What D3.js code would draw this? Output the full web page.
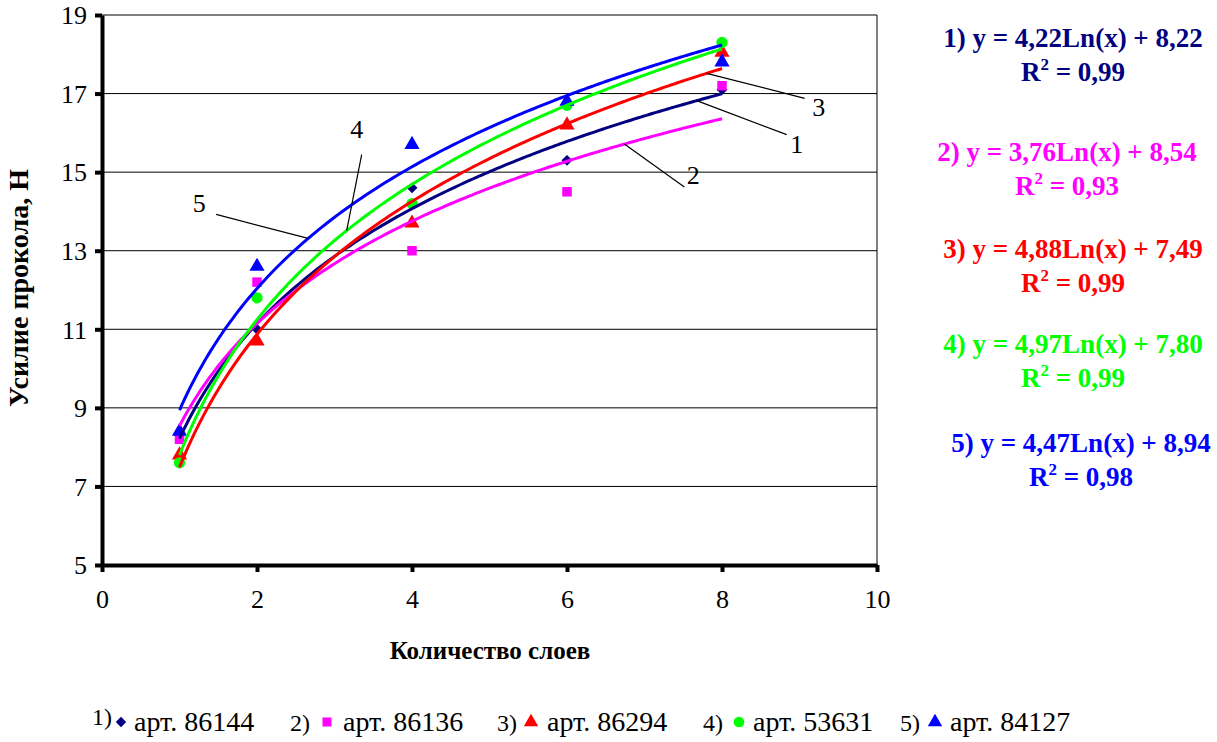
<!DOCTYPE html>
<html>
<head>
<meta charset="utf-8">
<script src="https://cdn.jsdelivr.net/npm/d3@7"></script>
<style>
  html, body { margin: 0; padding: 0; background: #fff; }
  svg { display: block; }
  svg text { font-family: "Liberation Serif", "Times New Roman", Tinos, serif; }
</style>
</head>
<body>
<svg id="chart" width="1217" height="742"></svg>
<script>
// Puncture force vs number of layers, five fabric articles
const layers = [1, 2, 4, 6, 8];
const xTicks = [0, 2, 4, 6, 8, 10];
const yTicks = [5, 7, 9, 11, 13, 15, 17, 19];

const articles = ["арт. 86144", "арт. 86136", "арт. 86294", "арт. 53631", "арт. 84127"];
const force86144 = [8.3, 11.0, 14.6, 15.3, 17.1];
const force86136 = [8.2, 12.2, 13.0, 14.5, 17.2];
const force86294 = [7.8, 10.7, 13.7, 16.2, 18.05];
const force53631 = [7.6, 11.8, 14.2, 16.7, 18.3];
const force84127 = [8.4, 12.6, 15.7, 16.8, 17.8];

// Logarithmic trend: y = a·ln(x) + b
const trendA = [4.22, 3.76, 4.88, 4.97, 4.47];
const trendB = [8.22, 8.54, 7.49, 7.80, 8.94];
const trendR2 = [0.99, 0.93, 0.99, 0.99, 0.98];

const colors = ["#000080", "#FF00FF", "#FF0000", "#00FF00", "#0000FF"];
// diamond = square turned 45°
const symbols = [d3.symbolSquare, d3.symbolSquare, d3.symbolTriangle, d3.symbolCircle, d3.symbolTriangle];
const symbolTurn = [45, 0, 0, 0, 0];
const symbolSizes = [60, 90, 100, 100, 100];

const seriesValues = [force86144, force86136, force86294, force53631, force84127];

const svg = d3.select("#chart");

const m = { left: 102, right: 877, top: 15, bottom: 565 };
const x = d3.scaleLinear().domain([0, 10]).range([m.left, m.right]);
const y = d3.scaleLinear().domain([5, 19]).range([m.bottom, m.top]);

// Horizontal gridlines and plot frame
svg.append("g")
  .selectAll("line")
  .data(yTicks.filter(t => t > 5))
  .join("line")
  .attr("x1", x(0)).attr("x2", x(10))
  .attr("y1", d => y(d)).attr("y2", d => y(d))
  .attr("stroke", "#000").attr("stroke-width", 1);

svg.append("line")
  .attr("x1", x(10)).attr("x2", x(10))
  .attr("y1", y(19)).attr("y2", y(5))
  .attr("stroke", "#000").attr("stroke-width", 1);

// Axes
const xAxis = d3.axisBottom(x).tickValues(xTicks).tickSize(7).tickPadding(18).tickSizeOuter(0);
const yAxis = d3.axisLeft(y).tickValues(yTicks).tickSize(7).tickPadding(8).tickSizeOuter(0);

const gx = svg.append("g").attr("transform", `translate(0,${m.bottom})`).call(xAxis);
const gy = svg.append("g").attr("transform", `translate(${m.left},0)`).call(yAxis);

[gx, gy].forEach(g => {
  g.attr("font-family", null).attr("font-size", null);
  g.select(".domain").attr("stroke", "#000").attr("stroke-width", 4);
  g.selectAll(".tick line").attr("stroke", "#000").attr("stroke-width", 4);
  g.selectAll(".tick text").style("font-size", "26px").attr("fill", "#000");
});
gy.selectAll(".tick text").attr("dy", "0.34em");

// Axis titles
svg.append("text")
  .attr("x", 490).attr("y", 659)
  .attr("text-anchor", "middle")
  .style("font-weight", "bold").style("font-size", "25px")
  .text("Количество слоев");

svg.append("text")
  .attr("transform", "translate(28,288) rotate(-90)")
  .attr("text-anchor", "middle")
  .style("font-weight", "bold").style("font-size", "28px")
  .text("Усилие прокола, Н");

// Data markers
seriesValues.forEach((vals, i) => {
  svg.append("g")
    .selectAll("path")
    .data(vals.map((v, k) => ({ x: layers[k], y: v })))
    .join("path")
    .attr("transform", d => `translate(${x(d.x)},${y(d.y)}) rotate(${symbolTurn[i]})`)
    .attr("d", d3.symbol().type(symbols[i]).size(symbolSizes[i]))
    .attr("fill", colors[i]);
});

// Trend curves over the markers
const trendX = d3.range(1, 8.0001, 0.05);
const line = d3.line().x(d => x(d[0])).y(d => y(d[1])).curve(d3.curveMonotoneX);
trendA.forEach((a, i) => {
  const pts = trendX.map(t => [t, a * Math.log(t) + trendB[i]]);
  svg.append("path")
    .attr("d", line(pts))
    .attr("fill", "none")
    .attr("stroke", colors[i])
    .attr("stroke-width", 3);
});

// Curve callouts: anchor on curve at layer value, line out to the number
const callouts = [
  { s: 0, at: 7.673, dx: 90, dy: 34, lx: 10, ly: 18 },
  { s: 1, at: 6.74, dx: 60, dy: 43, lx: 9, ly: -3 },
  { s: 2, at: 7.802, dx: 98, dy: 25, lx: 14, ly: 18 },
  { s: 3, at: 3.157, dx: 15, dy: -76, lx: -5, ly: -17 },
  { s: 4, at: 2.66, dx: -92, dy: -24, lx: -17, ly: -2 }
];
callouts.forEach(c => {
  const ax = x(c.at), ay = y(trendA[c.s] * Math.log(c.at) + trendB[c.s]);
  svg.append("line")
    .attr("x1", ax).attr("y1", ay)
    .attr("x2", ax + c.dx).attr("y2", ay + c.dy)
    .attr("stroke", "#000").attr("stroke-width", 1.2);
  svg.append("text")
    .attr("x", ax + c.dx + c.lx).attr("y", ay + c.dy + c.ly)
    .attr("text-anchor", "middle")
    .style("font-size", "26px")
    .text(String(c.s + 1));
});

// Trend equations
const fmt = v => v.toFixed(2).replace(".", ",");
const eqCenters = [1073, 1067, 1073, 1073, 1081];
const eqTops = [47, 161, 258, 353, 452];
trendA.forEach((a, i) => {
  const g = svg.append("g")
    .attr("fill", colors[i]).attr("text-anchor", "middle");
  g.append("text")
    .attr("x", eqCenters[i]).attr("y", eqTops[i])
    .style("font-weight", "bold").style("font-size", "27px")
    .text(`${i + 1}) y = ${fmt(a)}Ln(x) + ${fmt(trendB[i])}`);
  const t = g.append("text").attr("x", eqCenters[i]).attr("y", eqTops[i] + 34)
    .style("font-weight", "bold").style("font-size", "27px");
  t.append("tspan").text("R");
  t.append("tspan").attr("dy", -11).style("font-size", "17px").text("2");
  t.append("tspan").attr("dy", 11).text(` = ${fmt(trendR2[i])}`);
});

// Legend
const legendX = [92, 290, 497, 703, 900];
const legendMarkerX = [121, 327, 531, 739, 935];
const legendTextX = [134, 343, 547, 753, 950];
articles.forEach((name, i) => {
  const g = svg.append("g");
  g.append("text")
    .attr("x", legendX[i]).attr("y", i === 0 ? 725 : 731)
    .style("font-size", "24px")
    .text(`${i + 1})`);
  g.append("path")
    .attr("transform", `translate(${legendMarkerX[i]},722) rotate(${symbolTurn[i]})`)
    .attr("d", d3.symbol().type(symbols[i]).size(symbolSizes[i] * 0.9))
    .attr("fill", colors[i]);
  g.append("text")
    .attr("x", legendTextX[i]).attr("y", 731)
    .style("font-size", "28px")
    .text(name);
});
</script>
</body>
</html>
